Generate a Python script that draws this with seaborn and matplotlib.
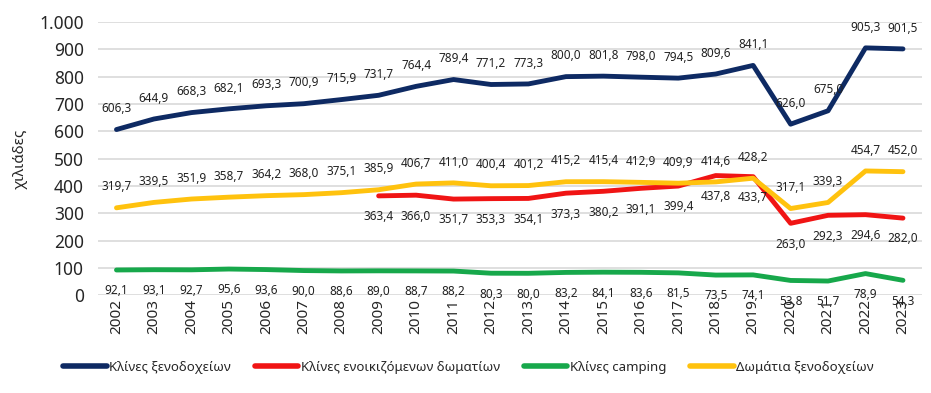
import numpy as np
import pandas as pd
import matplotlib
matplotlib.use('Agg')
import matplotlib.pyplot as plt
import seaborn as sns
from matplotlib.ticker import FuncFormatter

years = list(range(2002, 2024))
hotel_beds = [606.3, 644.9, 668.3, 682.1, 693.3, 700.9, 715.9, 731.7, 764.4, 789.4, 771.2,
              773.3, 800.0, 801.8, 798.0, 794.5, 809.6, 841.1, 626.0, 675.0, 905.3, 901.5]
rented_years = list(range(2009, 2024))
rented_beds = [363.4, 366.0, 351.7, 353.3, 354.1, 373.3, 380.2, 391.1, 399.4, 437.8, 433.7,
               263.0, 292.3, 294.6, 282.0]
camping_beds = [92.1, 93.1, 92.7, 95.6, 93.6, 90.0, 88.6, 89.0, 88.7, 88.2, 80.3, 80.0,
                83.2, 84.1, 83.6, 81.5, 73.5, 74.1, 53.8, 51.7, 78.9, 54.3]
hotel_rooms = [319.7, 339.5, 351.9, 358.7, 364.2, 368.0, 375.1, 385.9, 406.7, 411.0, 400.4,
               401.2, 415.2, 415.4, 412.9, 409.9, 414.6, 428.2, 317.1, 339.3, 454.7, 452.0]

series = [
    ('Κλίνες ξενοδοχείων', years, hotel_beds, '#0e2a63', 1),
    ('Κλίνες ενοικιζόμενων δωματίων', rented_years, rented_beds, '#f01414', -1),
    ('Κλίνες camping', years, camping_beds, '#17a84b', -1),
    ('Δωμάτια ξενοδοχείων', years, hotel_rooms, '#ffc20e', 1),
]

sns.set_style('white')
plt.rcParams['font.family'] = ['Noto Sans', 'DejaVu Sans']

fig, ax = plt.subplots(figsize=(9.31, 3.93), dpi=100)
fig.subplots_adjust(left=0.105, right=0.99, top=0.944, bottom=0.249)

for name, xs, ys, color, side in series:
    df = pd.DataFrame({'year': xs, 'value': ys})
    sns.lineplot(data=df, x='year', y='value', ax=ax, color=color, linewidth=3.5,
                 label=name, solid_capstyle='round')
    for x, y in zip(xs, ys):
        ax.annotate(f'{y:.1f}'.replace('.', ','), (x, y), xytext=(0, 15 * side),
                    textcoords='offset points', ha='center', va='center',
                    fontsize=8.5, color='#222222')

ax.set_xlim(2001.5, 2023.5)
ax.set_ylim(0, 1000)
ax.set_yticks(range(0, 1001, 100))
ax.yaxis.set_major_formatter(FuncFormatter(lambda v, p: f'{int(v):,}'.replace(',', '.')))
ax.set_xticks(years)
ax.set_xticklabels([str(y) for y in years], rotation=90)
ax.tick_params(axis='y', labelsize=12.5, length=0, pad=10)
ax.tick_params(axis='x', labelsize=11, length=0, pad=3)
ax.grid(axis='y', color='#d9d9d9', linewidth=1.2)
ax.set_axisbelow(True)
for s in ax.spines.values():
    s.set_visible(False)
ax.set_xlabel('')
ax.set_ylabel('χιλιάδες', fontsize=11, labelpad=8)

ax.legend(loc='center', bbox_to_anchor=(0.45, -0.265), ncol=4, frameon=False,
          fontsize=9.5, handlelength=3.3, handletextpad=0.2, columnspacing=1.8)
for line in ax.get_legend().get_lines():
    line.set_linewidth(4)

fig.savefig('out.png', dpi=100)
